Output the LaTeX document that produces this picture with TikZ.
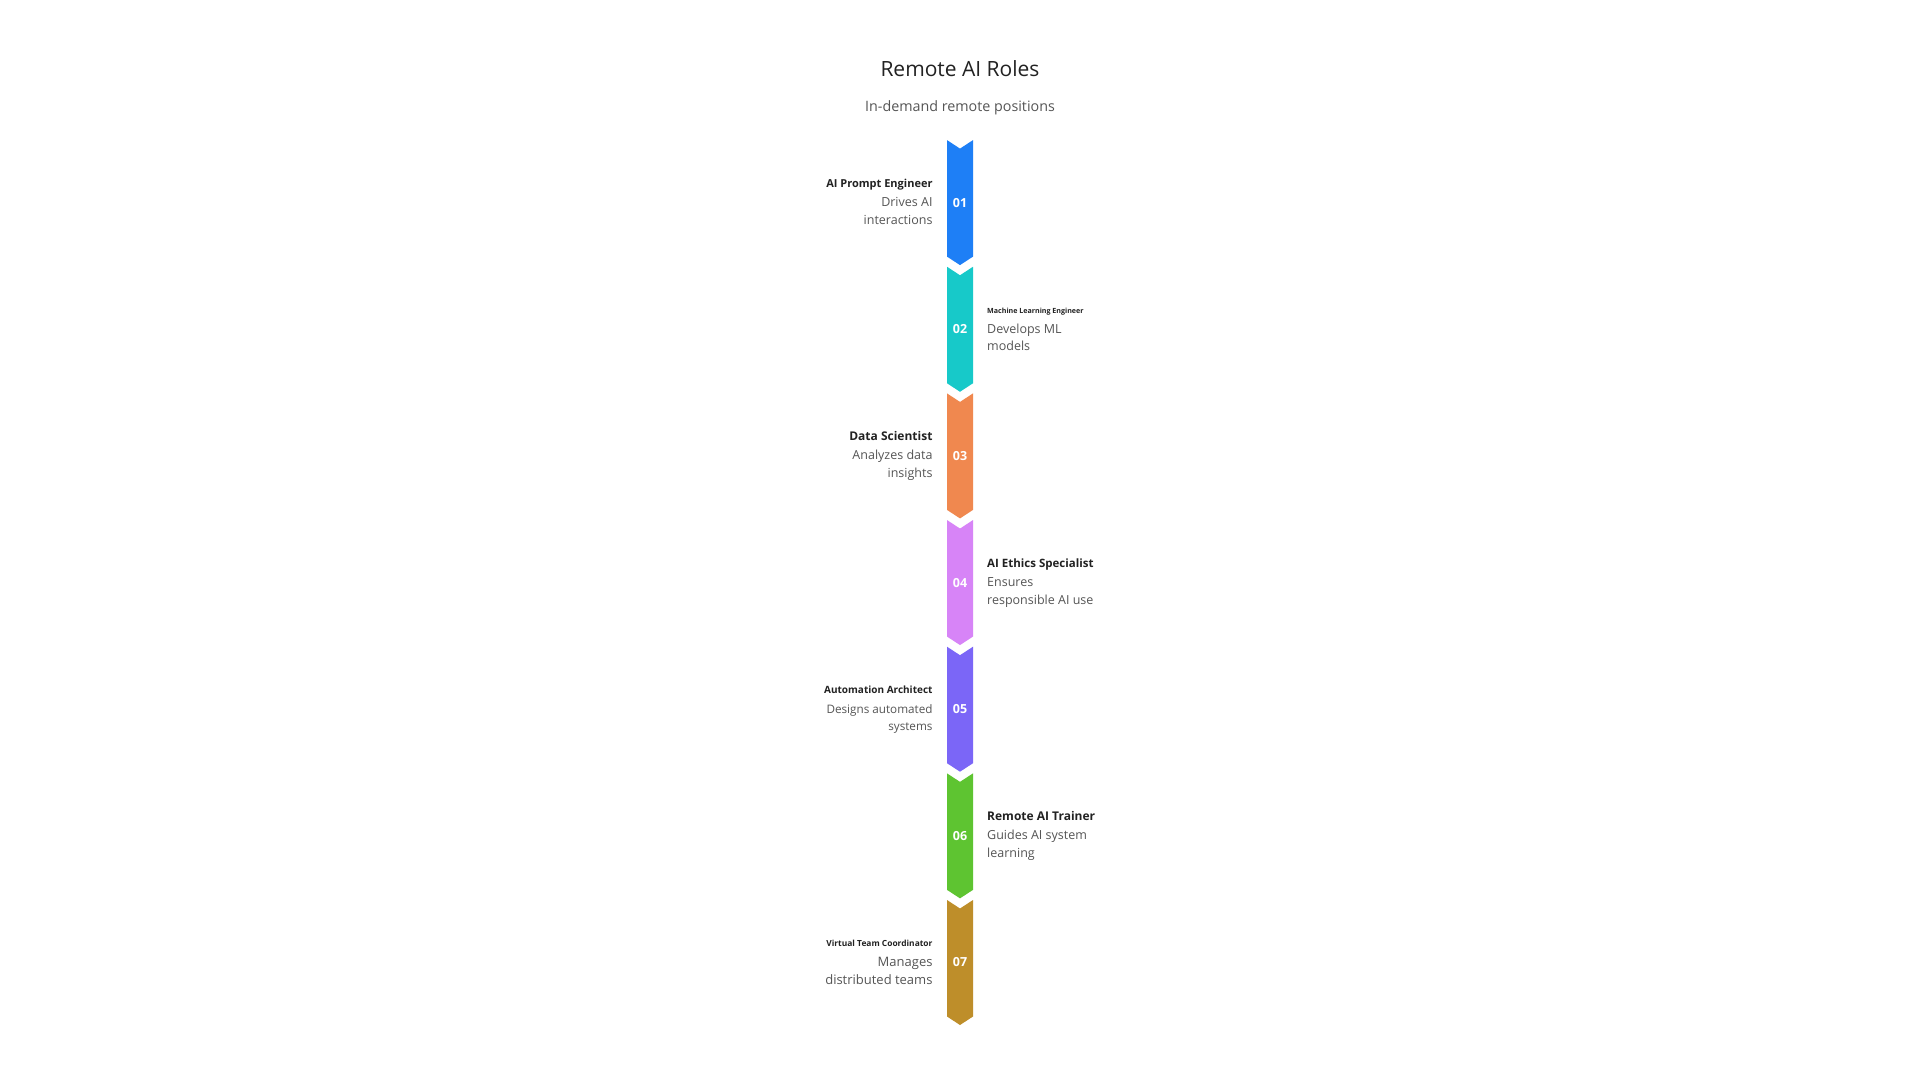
\documentclass[tikz,border=0pt]{standalone}
\usepackage{fontspec}
\setmainfont{Open Sans}
\definecolor{cA}{HTML}{1E7FF6}
\definecolor{cB}{HTML}{17C9C9}
\definecolor{cC}{HTML}{F0884F}
\definecolor{cD}{HTML}{D784F7}
\definecolor{cE}{HTML}{7B66F7}
\definecolor{cF}{HTML}{5EC431}
\definecolor{cG}{HTML}{BE8E2A}
\definecolor{headc}{HTML}{222222}
\definecolor{descc}{HTML}{555555}
\tikzset{
  numtxt/.style={text=white, inner sep=0pt, font=\bfseries\fontsize{12.5}{15}\selectfont},
  headL/.style={text=headc, inner sep=0pt, anchor=base east},
  headR/.style={text=headc, inner sep=0pt, anchor=base west},
  descL/.style={text=descc, inner sep=0pt, anchor=base east, font=\fontsize{12.5}{15}\selectfont},
  descR/.style={text=descc, inner sep=0pt, anchor=base west, font=\fontsize{12.5}{15}\selectfont},
}
\begin{document}
\begin{tikzpicture}[x=1pt,y=-1pt]
\useasboundingbox (0,0) rectangle (1920,1080);
\fill[white] (0,0) rectangle (1920,1080);
\node[text=headc, inner sep=0pt, anchor=base, font=\fontsize{21}{25}\selectfont] (title) at (960,76) {Remote AI Roles};
\node[text=descc, inner sep=0pt, anchor=base, font=\fontsize{14.3}{17}\selectfont] (subtitle) at (960,111.7) {In-demand remote positions};
\foreach \i/\col/\num in {0/cA/01,1/cB/02,2/cC/03,3/cD/04,4/cE/05,5/cF/06,6/cG/07} {
  \pgfmathsetmacro\c{202.6+126.65*\i}
  \fill[\col] (947,\c-62.5) -- (960,\c-54) -- (973,\c-62.5) -- (973,\c+54) -- (960,\c+62.5) -- (947,\c+54) -- cycle;
  \node[numtxt] (n\num) at (960,\c) {\num};
}
% 01 left
\node[headL, font=\bfseries\fontsize{11}{13}\selectfont] (h1) at (932.7,187.1) {AI Prompt Engineer};
\node[descL] (d1a) at (932.7,206.4) {Drives AI};
\node[descL] (d1b) at (932.7,224.2) {interactions};
% 02 right
\node[headR, font=\bfseries\fontsize{7.1}{9}\selectfont] (h2) at (987,313.8) {Machine Learning Engineer};
\node[descR] (d2a) at (987,333.1) {Develops ML};
\node[descR] (d2b) at (987,350.9) {models};
% 03 left
\node[headL, font=\bfseries\fontsize{12}{15}\selectfont] (h3) at (932.7,440.4) {Data Scientist};
\node[descL] (d3a) at (932.7,459.7) {Analyzes data};
\node[descL] (d3b) at (932.7,477.5) {insights};
% 04 right
\node[headR, font=\bfseries\fontsize{11.5}{14}\selectfont] (h4) at (987,567.1) {AI Ethics Specialist};
\node[descR] (d4a) at (987,586.4) {Ensures};
\node[descR] (d4b) at (987,604.2) {responsible AI use};
% 05 left
\node[headL, font=\bfseries\fontsize{10}{13}\selectfont] (h5) at (932.7,693.7) {Automation Architect};
\node[descL, font=\fontsize{11.7}{14}\selectfont] (d5a) at (932.7,713.0) {Designs automated};
\node[descL, font=\fontsize{11.7}{14}\selectfont] (d5b) at (932.7,730.8) {systems};
% 06 right
\node[headR, font=\bfseries\fontsize{12}{15}\selectfont] (h6) at (987,820.4) {Remote AI Trainer};
\node[descR] (d6a) at (987,839.7) {Guides AI system};
\node[descR] (d6b) at (987,857.5) {learning};
% 07 left
\node[headL, font=\bfseries\fontsize{8.4}{10}\selectfont] (h7) at (932.7,946.5) {Virtual Team Coordinator};
\node[descL, font=\fontsize{13}{16}\selectfont] (d7a) at (932.7,966.3) {Manages};
\node[descL, font=\fontsize{13}{16}\selectfont] (d7b) at (932.7,984.1) {distributed teams};
\end{tikzpicture}
\end{document}
